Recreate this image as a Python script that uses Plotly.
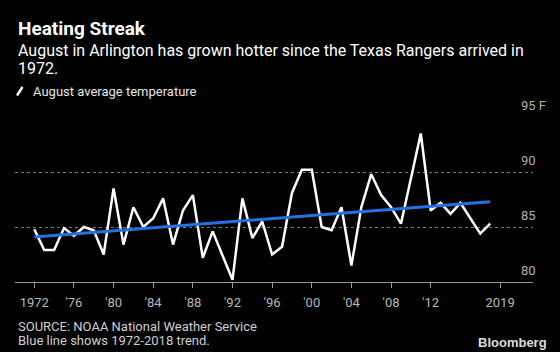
import plotly.graph_objects as go

years = list(range(1972, 2019))
temps = [84.8, 82.9, 82.9, 84.9, 84.2, 85.0, 84.7, 82.5, 88.5, 83.4,
         86.8, 85.0, 85.8, 87.6, 83.4, 86.5, 87.9, 82.2, 84.6, 82.4,
         80.2, 87.6, 84.0, 85.5, 82.5, 83.2, 88.1, 90.2, 90.2, 85.0,
         84.7, 86.8, 81.5, 86.8, 89.8, 87.9, 86.8, 85.3, 89.3, 93.5,
         86.5, 87.2, 86.2, 87.2, 85.8, 84.4, 85.3]
trend_years = [1972, 2018]
trend_vals = [84.1, 87.3]

tick_years = [1972, 1976, 1980, 1984, 1988, 1992, 1996, 2000, 2004, 2008, 2012, 2019]
tick_text = ["1972", "'76", "'80", "'84", "'88", "'92", "'96", "'00", "'04", "'08", "'12", "2019"]
y_ticks = [80, 85, 90, 95]
y_labels = ["80", "85", "90", "95 F"]

W, H = 560, 352
L, R, T, B = 15, 27, 117, 70
pw, ph = W - L - R, H - T - B

def px(x):
    return (x - L) / pw

def py(y):
    return (H - B - y) / ph

FONT = "Roboto"

fig = go.Figure()
fig.add_trace(go.Scatter(x=years, y=temps, mode="lines",
                         line=dict(color="white", width=2.5), hoverinfo="skip"))
fig.add_trace(go.Scatter(x=trend_years, y=trend_vals, mode="lines",
                         line=dict(color="#2471e6", width=3), hoverinfo="skip"))

ann = []
ann.append(dict(text="<b>Heating Streak</b>", x=px(15.5), y=py(28.5), xref="paper", yref="paper",
                xanchor="left", yanchor="middle", showarrow=False,
                font=dict(family=FONT, size=19, color="white")))
ann.append(dict(text="August in Arlington has grown hotter since the Texas Rangers arrived in",
                x=px(15.5), y=py(50), xref="paper", yref="paper", xanchor="left", yanchor="middle",
                showarrow=False, font=dict(family=FONT, size=16, color="white")))
ann.append(dict(text="1972.", x=px(15.5), y=py(68), xref="paper", yref="paper", xanchor="left",
                yanchor="middle", showarrow=False, font=dict(family=FONT, size=16, color="white")))
ann.append(dict(text="August average temperature", x=px(31), y=py(92), xref="paper", yref="paper",
                xanchor="left", yanchor="middle", showarrow=False,
                font=dict(family=FONT, size=13, color="#e6e6e6")))
for v, lab in zip(y_ticks, y_labels):
    ann.append(dict(text=lab, x=px(518.5), y=v, xref="paper", yref="y", xanchor="left",
                    yanchor="middle", yshift=11.5, showarrow=False,
                    font=dict(family=FONT, size=13, color="#b0b0b0")))
ann.append(dict(text="SOURCE: NOAA National Weather Service", x=px(15.5), y=py(326.5), xref="paper",
                yref="paper", xanchor="left", yanchor="middle", showarrow=False,
                font=dict(family=FONT, size=13, color="#cfcfcf")))
ann.append(dict(text="Blue line shows 1972-2018 trend.", x=px(15.5), y=py(340.5), xref="paper",
                yref="paper", xanchor="left", yanchor="middle", showarrow=False,
                font=dict(family=FONT, size=13, color="#cfcfcf")))
ann.append(dict(text="<b>Bloomberg</b>", x=px(549), y=py(342), xref="paper", yref="paper",
                xanchor="right", yanchor="middle", showarrow=False,
                font=dict(family="Liberation Sans", size=13, color="#dcdcdc")))

shapes = [dict(type="line", xref="paper", yref="paper", x0=px(17), y0=py(95.5), x1=px(22.5), y1=py(87),
               line=dict(color="white", width=2.5))]

x0 = 1972 - (34.3 - L) / 9.91
x1 = x0 + pw / 9.91

fig.update_layout(
    width=W, height=H, margin=dict(l=L, r=R, t=T, b=B),
    paper_bgcolor="black", plot_bgcolor="black", showlegend=False,
    annotations=ann, shapes=shapes,
    xaxis=dict(range=[x0, x1], tickvals=tick_years, ticktext=tick_text, showgrid=False,
               zeroline=False, showline=True, linecolor="#9a9a9a", linewidth=1,
               ticks="outside", ticklen=5, tickcolor="#9a9a9a", tickwidth=1,
               ticklabelstandoff=3,
               tickfont=dict(family=FONT, size=13, color="#b8b8b8"), fixedrange=True),
    yaxis=dict(range=[80, 95], tickvals=[85, 90, 95], showticklabels=False, showgrid=True,
               gridcolor="#7a7a7a", griddash="dot", gridwidth=1, zeroline=False,
               showline=False, ticks="", fixedrange=True),
)

fig.write_html("out.html")
